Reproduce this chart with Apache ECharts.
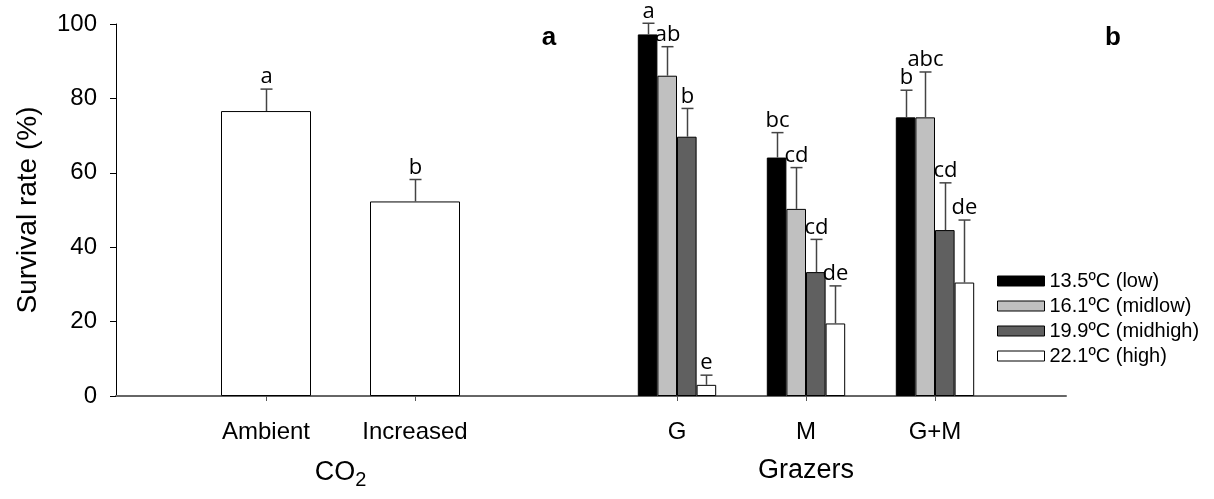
<!DOCTYPE html>
<html><head><meta charset="utf-8">
<script src="https://cdn.jsdelivr.net/npm/echarts@6/dist/echarts.min.js"></script>
<style>html,body{margin:0;padding:0;background:#fff}#c{width:1214px;height:499px}</style>
</head><body><div id="c"></div>
<script>
// ---- data ----
const co2Categories = ['Ambient', 'Increased'];
const co2Values = [76.6, 52.3];
const co2Errors = [5.9, 5.9];
const co2Letters = ['a', 'b'];

const grazerCategories = ['G', 'M', 'G+M'];
const tempNames = ['13.5ºC (low)', '16.1ºC (midlow)', '19.9ºC (midhigh)', '22.1ºC (high)'];
const valuesLow = [97.2, 64.1, 74.9];
const valuesMidlow = [86.1, 50.3, 74.9];
const valuesMidhigh = [69.7, 33.3, 44.6];
const valuesHigh = [3.0, 19.5, 30.5];
const errLow = [3.0, 6.7, 7.3];
const errMidlow = [7.8, 11.1, 12.2];
const errMidhigh = [7.6, 8.8, 12.7];
const errHigh = [2.6, 10.1, 16.8];
const lettersLow = ['a', 'bc', 'b'];
const lettersMidlow = ['ab', 'cd', 'abc'];
const lettersMidhigh = ['b', 'cd', 'cd'];
const lettersHigh = ['e', 'de', 'de'];
const yMin = 0, yMax = 100, yStep = 20;

// ---- styling ----
const FONT = 'Liberation Sans, Arial, sans-serif';
const LETTER_FONT = 'Open Sans, sans-serif';
const tempColors = ['#000000', '#c0c0c0', '#606060', '#ffffff'];
const GRID_TOP = 24, GRID_BOTTOM = 103;
const BW_B = 19.6;

const chart = echarts.init(document.getElementById('c'), null, {renderer: 'canvas'});

function errRenderer(values, errs, letters, barW, nSeries, k) {
  return function (params, api) {
    const i = params.dataIndex;
    const base = api.coord([i, values[i]]);
    const top = api.coord([i, values[i] + errs[i]]);
    const x = Math.round(base[0] + (k - (nSeries - 1) / 2) * barW) + 0.5;
    const st = {stroke: '#444', lineWidth: 1.5};
    return {
      type: 'group',
      children: [
        {type: 'line', shape: {x1: x, y1: base[1], x2: x, y2: top[1]}, style: st},
        {type: 'line', shape: {x1: x - 6, y1: top[1], x2: x + 6, y2: top[1]}, style: st},
        {type: 'text', x: x, y: top[1] - 1, style: {text: letters[i], fill: '#000', font: '22px ' + LETTER_FONT, align: 'center', verticalAlign: 'bottom'}}
      ]
    };
  };
}

const yAxisBase = {type: 'value', min: yMin, max: yMax, interval: yStep, splitLine: {show: false}};

const series = [];
series.push({
  type: 'bar', xAxisIndex: 1, yAxisIndex: 1, data: co2Values, barWidth: 90,
  itemStyle: {color: '#fff', borderColor: '#000', borderWidth: 1}, silent: true
});
series.push({
  type: 'custom', xAxisIndex: 1, yAxisIndex: 1, data: co2Values.map((v, i) => [i, v]),
  renderItem: errRenderer(co2Values, co2Errors, co2Letters, 0, 1, 0), z: 5, silent: true
});
const groups = [
  [valuesLow, errLow, lettersLow],
  [valuesMidlow, errMidlow, lettersMidlow],
  [valuesMidhigh, errMidhigh, lettersMidhigh],
  [valuesHigh, errHigh, lettersHigh]
];
groups.forEach((g, k) => {
  series.push({
    type: 'bar', name: tempNames[k], xAxisIndex: 2, yAxisIndex: 2, data: g[0],
    barWidth: BW_B, barGap: '0%',
    itemStyle: {color: tempColors[k], borderColor: '#000', borderWidth: 1}, silent: true
  });
});
groups.forEach((g, k) => {
  series.push({
    type: 'custom', xAxisIndex: 2, yAxisIndex: 2, data: g[0].map((v, i) => [i, v]),
    renderItem: errRenderer(g[0], g[1], g[2], BW_B, 4, k), z: 5, silent: true
  });
});

chart.setOption({
  animation: false,
  backgroundColor: '#fff',
  grid: [
    {left: 116, right: 148, top: GRID_TOP, bottom: GRID_BOTTOM},
    {left: 191.5, width: 298, top: GRID_TOP, bottom: GRID_BOTTOM},
    {left: 612.5, width: 387, top: GRID_TOP, bottom: GRID_BOTTOM}
  ],
  xAxis: [
    {gridIndex: 0, type: 'value', min: 0, max: 1, axisLine: {show: true, onZero: false, lineStyle: {color: '#666', width: 2}},
      axisTick: {show: false}, axisLabel: {show: false}, splitLine: {show: false}},
    {gridIndex: 1, type: 'category', data: co2Categories, axisLine: {show: false},
      axisTick: {show: true, alignWithLabel: true, length: 5, lineStyle: {color: '#555', width: 1}},
      axisLabel: {fontFamily: FONT, fontSize: 24, color: '#000', margin: 24},
      name: '{m|CO}{s|2}', nameLocation: 'middle', nameGap: 61,
      nameTextStyle: {rich: {m: {fontFamily: FONT, fontSize: 27, color: '#000', lineHeight: 32}, s: {fontFamily: FONT, fontSize: 20, color: '#000', lineHeight: 32, padding: [14, 0, 0, 0]}}}},
    {gridIndex: 2, type: 'category', data: grazerCategories, axisLine: {show: false},
      axisTick: {show: true, alignWithLabel: true, length: 5, lineStyle: {color: '#555', width: 1}},
      axisLabel: {fontFamily: FONT, fontSize: 24, color: '#000', margin: 24},
      name: 'Grazers', nameLocation: 'middle', nameGap: 61,
      nameTextStyle: {fontFamily: FONT, fontSize: 27, color: '#000'}}
  ],
  yAxis: [
    Object.assign({}, yAxisBase, {gridIndex: 0,
      axisLine: {show: true, lineStyle: {color: '#000', width: 1}},
      axisTick: {show: true, length: 6, lineStyle: {color: '#000', width: 1}},
      axisLabel: {fontFamily: FONT, fontSize: 24, color: '#000', margin: 19},
      name: 'Survival rate (%)', nameLocation: 'middle', nameGap: 74,
      nameTextStyle: {fontFamily: FONT, fontSize: 28, color: '#000'}}),
    Object.assign({}, yAxisBase, {gridIndex: 1, show: false}),
    Object.assign({}, yAxisBase, {gridIndex: 2, show: false})
  ],
  legend: {
    data: tempNames, orient: 'vertical', left: 992, top: 266,
    icon: 'rect', itemWidth: 47, itemHeight: 10, itemGap: 5, itemTextGap: 11,
    itemStyle: {borderColor: '#000', borderWidth: 1},
    textStyle: {fontFamily: FONT, fontSize: 20, color: '#000'},
    selectedMode: false
  },
  graphic: [
    {type: 'text', x: 549, y: 38, style: {text: 'a', font: 'bold 26px ' + FONT, fill: '#000', align: 'center', verticalAlign: 'middle'}},
    {type: 'text', x: 1113, y: 38, style: {text: 'b', font: 'bold 26px ' + FONT, fill: '#000', align: 'center', verticalAlign: 'middle'}}
  ],
  series: series
});
</script>
</body></html>
